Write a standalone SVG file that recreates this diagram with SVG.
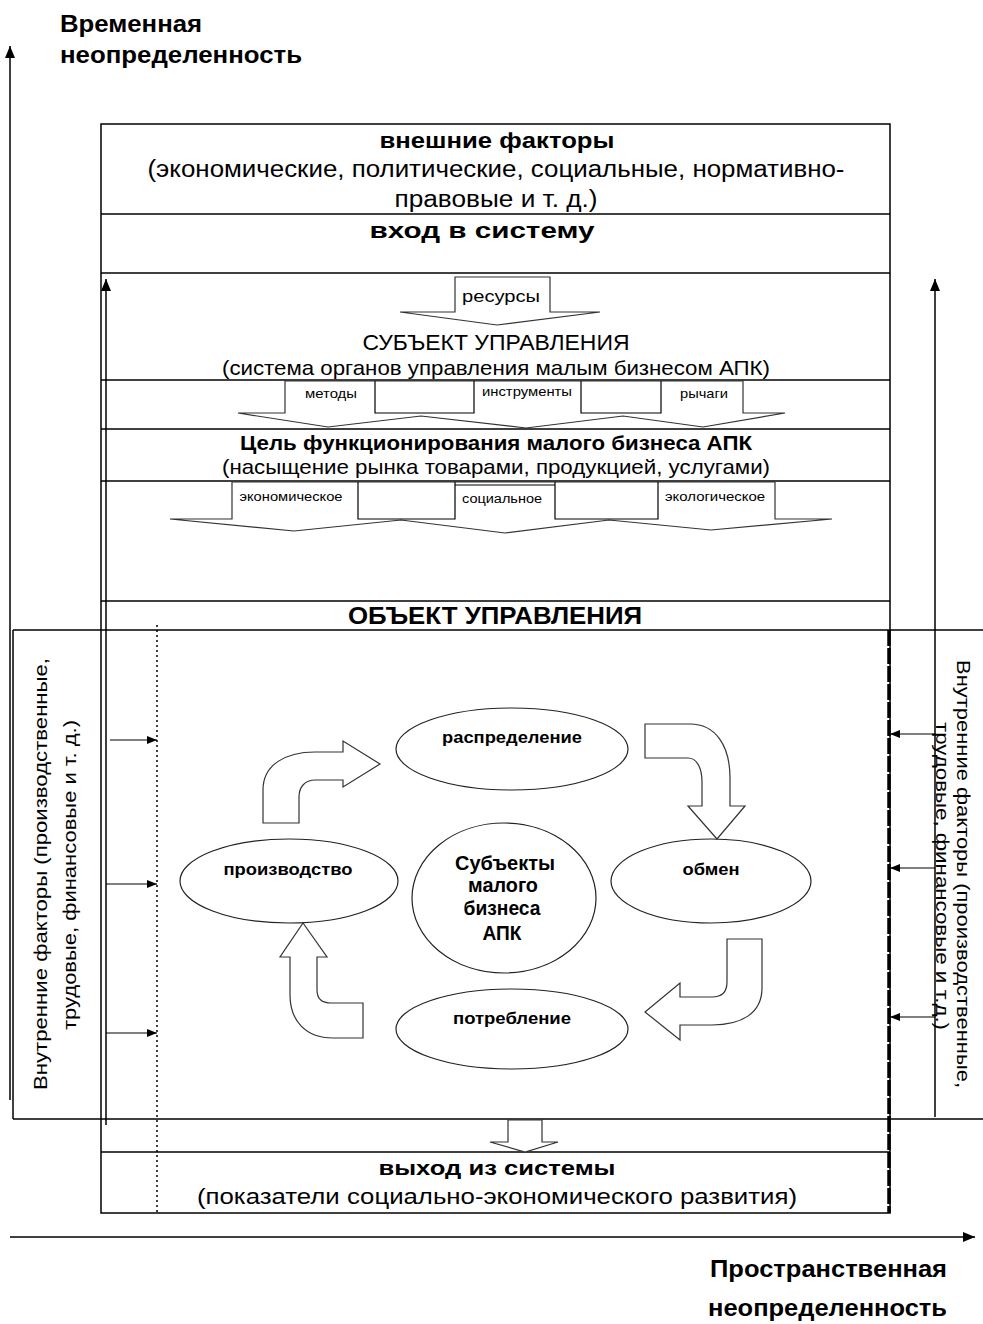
<svg xmlns="http://www.w3.org/2000/svg" width="983" height="1324" viewBox="0 0 983 1324">
<defs>
<style>
.t{font-family:"Liberation Sans",Arial,sans-serif;fill:#000}
.b{font-weight:bold}
.ln{stroke:#000;stroke-width:1.5;fill:none}
.thin{stroke:#000;stroke-width:1.2;fill:none}
.blk{stroke:#333;stroke-width:1.2;fill:#fff}
.ell{stroke:#222;stroke-width:1.2;fill:#fff}
</style>
<marker id="ah" markerWidth="12" markerHeight="10" refX="12" refY="5" orient="auto" markerUnits="userSpaceOnUse"><path d="M0,0 L12,5 L0,10 Z" fill="#000"/></marker>
<marker id="sh" markerWidth="10" markerHeight="8" refX="10" refY="4" orient="auto" markerUnits="userSpaceOnUse"><path d="M0,0 L10,4 L0,8 Z" fill="#000"/></marker>
</defs>
<rect width="983" height="1324" fill="#fff"/>

<g id="axes">
<line class="ln" x1="10" y1="1100" x2="10" y2="46" marker-end="url(#ah)"/>
<line class="ln" x1="10" y1="1237" x2="975" y2="1237" marker-end="url(#ah)"/>
<text class="t b" x="60" y="32" font-size="24" textLength="142" lengthAdjust="spacingAndGlyphs">Временная</text>
<text class="t b" x="60" y="63" font-size="24" textLength="242" lengthAdjust="spacingAndGlyphs">неопределенность</text>
<text class="t b" x="710" y="1277" font-size="24" textLength="237" lengthAdjust="spacingAndGlyphs">Пространственная</text>
<text class="t b" x="708" y="1316" font-size="24" textLength="239" lengthAdjust="spacingAndGlyphs">неопределенность</text>
</g>

<g id="frame">
<rect class="ln" x="101" y="124" width="789" height="1089"/>
<line class="ln" x1="101" y1="214" x2="890" y2="214"/>
<line class="ln" x1="101" y1="273" x2="890" y2="273"/>
<line class="ln" x1="101" y1="380" x2="890" y2="380"/>
<line class="ln" x1="101" y1="429" x2="890" y2="429"/>
<line class="ln" x1="101" y1="481" x2="890" y2="481"/>
<line class="ln" x1="101" y1="601" x2="890" y2="601"/>
<line class="ln" x1="101" y1="1152" x2="890" y2="1152"/>
<line x1="889" y1="630" x2="889" y2="1213" stroke="#000" stroke-width="3.5" stroke-dasharray="16 2"/>
<line x1="157" y1="625" x2="157" y2="1213" stroke="#000" stroke-width="1.5" stroke-dasharray="2 3"/>
</g>

<g id="external-factors">
<text class="t b" x="497" y="148" font-size="22" text-anchor="middle" textLength="235" lengthAdjust="spacingAndGlyphs">внешние факторы</text>
<text class="t" x="496" y="177" font-size="23" text-anchor="middle" textLength="697" lengthAdjust="spacingAndGlyphs">(экономические, политические, социальные, нормативно-</text>
<text class="t" x="496" y="207" font-size="23" text-anchor="middle" textLength="203" lengthAdjust="spacingAndGlyphs">правовые и т. д.)</text>
</g>

<g id="input">
<text class="t b" x="482" y="238" font-size="22" text-anchor="middle" textLength="225" lengthAdjust="spacingAndGlyphs">вход в систему</text>
</g>

<g id="resources-arrow">
<path class="blk" d="M455,277 L550,277 L550,312 L600,312 L497,325 L400,312 L455,312 Z"/>
<text class="t" x="501" y="302" font-size="17" text-anchor="middle" textLength="78" lengthAdjust="spacingAndGlyphs">ресурсы</text>
</g>

<g id="subject">
<text class="t" x="496" y="350" font-size="22" text-anchor="middle" textLength="267" lengthAdjust="spacingAndGlyphs">СУБЪЕКТ УПРАВЛЕНИЯ</text>
<text class="t" x="496" y="375" font-size="21" text-anchor="middle" textLength="548" lengthAdjust="spacingAndGlyphs">(система органов управления малым бизнесом АПК)</text>
</g>

<g id="methods-arrows">
<path class="blk" d="M238,413 L285,413 L285,381 L743,381 L743,413 L785,413 L703,427 L623,416 L526,428 L421,416 L328,427 Z"/>
<path class="thin" d="M375,381 L375,413 L474,413 L474,381 M581,381 L581,413 L661,413 L661,381"/>
<text class="t" x="331" y="398" font-size="13" text-anchor="middle" textLength="52" lengthAdjust="spacingAndGlyphs">методы</text>
<text class="t" x="527" y="396" font-size="13" text-anchor="middle" textLength="90" lengthAdjust="spacingAndGlyphs">инструменты</text>
<text class="t" x="704" y="398" font-size="13" text-anchor="middle" textLength="48" lengthAdjust="spacingAndGlyphs">рычаги</text>
</g>

<g id="goal">
<text class="t b" x="496" y="450" font-size="21" text-anchor="middle" textLength="512" lengthAdjust="spacingAndGlyphs">Цель функционирования малого бизнеса АПК</text>
<text class="t" x="496" y="474" font-size="21" text-anchor="middle" textLength="548" lengthAdjust="spacingAndGlyphs">(насыщение рынка товарами, продукцией, услугами)</text>
</g>

<g id="goal-arrows">
<path class="blk" d="M170,519 L232,519 L232,482 L775,482 L775,519 L832,519 L711,530 L609,520 L505,533 L401,520 L294,531 Z"/>
<path class="thin" d="M358,482 L358,519 L455,519 L455,482 M455,485 L555,485 M555,482 L555,519 L658,519 L658,482"/>
<text class="t" x="291" y="501" font-size="12" text-anchor="middle" textLength="103" lengthAdjust="spacingAndGlyphs">экономическое</text>
<text class="t" x="502" y="503" font-size="12" text-anchor="middle" textLength="80" lengthAdjust="spacingAndGlyphs">социальное</text>
<text class="t" x="715" y="501" font-size="12" text-anchor="middle" textLength="100" lengthAdjust="spacingAndGlyphs">экологическое</text>
</g>

<g id="object-title">
<text class="t b" x="495" y="624" font-size="24" text-anchor="middle" textLength="294" lengthAdjust="spacingAndGlyphs">ОБЪЕКТ УПРАВЛЕНИЯ</text>
</g>

<g id="object-box">
<line class="ln" x1="13" y1="630" x2="983" y2="630"/>
<line class="ln" x1="13" y1="1119" x2="983" y2="1119"/>
<line class="ln" x1="13" y1="630" x2="13" y2="1119"/>
</g>

<g id="internal-left">
<text class="t" font-size="18" text-anchor="middle" transform="translate(47,874) rotate(-90)" textLength="432" lengthAdjust="spacingAndGlyphs">Внутренние факторы (производственные,</text>
<text class="t" font-size="18" text-anchor="middle" transform="translate(76,875) rotate(-90)" textLength="310" lengthAdjust="spacingAndGlyphs">трудовые, финансовые и т. д.)</text>
</g>

<g id="internal-right">
<text class="t" font-size="18" text-anchor="middle" transform="translate(957,874) rotate(90)" textLength="428" lengthAdjust="spacingAndGlyphs">Внутренние факторы (производственные,</text>
<text class="t" font-size="18" text-anchor="middle" transform="translate(936,876) rotate(90)" textLength="308" lengthAdjust="spacingAndGlyphs">трудовые, финансовые и т.д.)</text>
</g>

<g id="distribution">
<ellipse class="ell" cx="512" cy="749" rx="116" ry="41"/>
<text class="t b" x="512" y="743" font-size="17" text-anchor="middle" textLength="140" lengthAdjust="spacingAndGlyphs">распределение</text>
</g>
<g id="exchange">
<ellipse class="ell" cx="711" cy="881" rx="100" ry="42"/>
<text class="t b" x="711" y="875" font-size="17" text-anchor="middle" textLength="57" lengthAdjust="spacingAndGlyphs">обмен</text>
</g>
<g id="consumption">
<ellipse class="ell" cx="512" cy="1029" rx="116" ry="40"/>
<text class="t b" x="512" y="1024" font-size="17" text-anchor="middle" textLength="118" lengthAdjust="spacingAndGlyphs">потребление</text>
</g>
<g id="production">
<ellipse class="ell" cx="289" cy="881" rx="109" ry="42"/>
<text class="t b" x="288" y="875" font-size="17" text-anchor="middle" textLength="129" lengthAdjust="spacingAndGlyphs">производство</text>
</g>
<g id="subjects">
<ellipse class="ell" cx="504" cy="898" rx="92" ry="75"/>
<text class="t b" x="505" y="870" font-size="21" text-anchor="middle" textLength="100" lengthAdjust="spacingAndGlyphs">Субъекты</text>
<text class="t b" x="503" y="892" font-size="21" text-anchor="middle" textLength="70" lengthAdjust="spacingAndGlyphs">малого</text>
<text class="t b" x="502" y="915" font-size="21" text-anchor="middle" textLength="77" lengthAdjust="spacingAndGlyphs">бизнеса</text>
<text class="t b" x="502" y="940" font-size="21" text-anchor="middle" textLength="39" lengthAdjust="spacingAndGlyphs">АПК</text>
</g>

<g id="output">
<text class="t b" x="497" y="1175" font-size="21" text-anchor="middle" textLength="237" lengthAdjust="spacingAndGlyphs">выход из системы</text>
<text class="t" x="497" y="1204" font-size="22" text-anchor="middle" textLength="600" lengthAdjust="spacingAndGlyphs">(показатели социально-экономического развития)</text>
</g>

<g id="connectors">
<line class="ln" x1="106" y1="1125" x2="106" y2="279" marker-end="url(#ah)"/>
<line class="ln" x1="935" y1="1117" x2="935" y2="279" marker-end="url(#ah)"/>
<line class="thin" x1="110" y1="740" x2="157" y2="740" marker-end="url(#sh)"/>
<line class="thin" x1="106" y1="884" x2="157" y2="884" marker-end="url(#sh)"/>
<line class="thin" x1="106" y1="1033" x2="157" y2="1033" marker-end="url(#sh)"/>
<line class="thin" x1="935" y1="734" x2="890" y2="734" marker-end="url(#sh)"/>
<line class="thin" x1="935" y1="868" x2="890" y2="868" marker-end="url(#sh)"/>
<line class="thin" x1="935" y1="1017" x2="890" y2="1017" marker-end="url(#sh)"/>
<path class="blk" d="M263,823 L263,790 C263,765 285,752 315,752 L343,752 L343,741 L380,764 L343,787 L343,780 L315,780 C305,780 299,787 299,797 L299,823 Z"/>
<path class="blk" d="M645,724 L690,724 C715,724 730,745 730,778 L730,806 L745,806 L717,839 L688,806 L702,806 L702,782 C702,768 697,758 688,758 L645,758 Z"/>
<path class="blk" d="M727,939 L762,939 L762,988 C762,1013 742,1025 712,1025 L680,1025 L680,1040 L645,1012 L680,983 L680,997 L712,997 C722,997 727,992 727,982 Z"/>
<path class="blk" d="M303,923 L327,957 L317,957 L317,990 C317,999 322,1003 331,1003 L363,1003 L363,1038 L333,1038 C305,1038 290,1020 290,995 L290,957 L280,957 Z"/>
<path class="blk" d="M508,1120 L542,1120 L542,1142 L558,1142 L525,1152 L490,1142 L508,1142 Z"/>
</g>
</svg>
